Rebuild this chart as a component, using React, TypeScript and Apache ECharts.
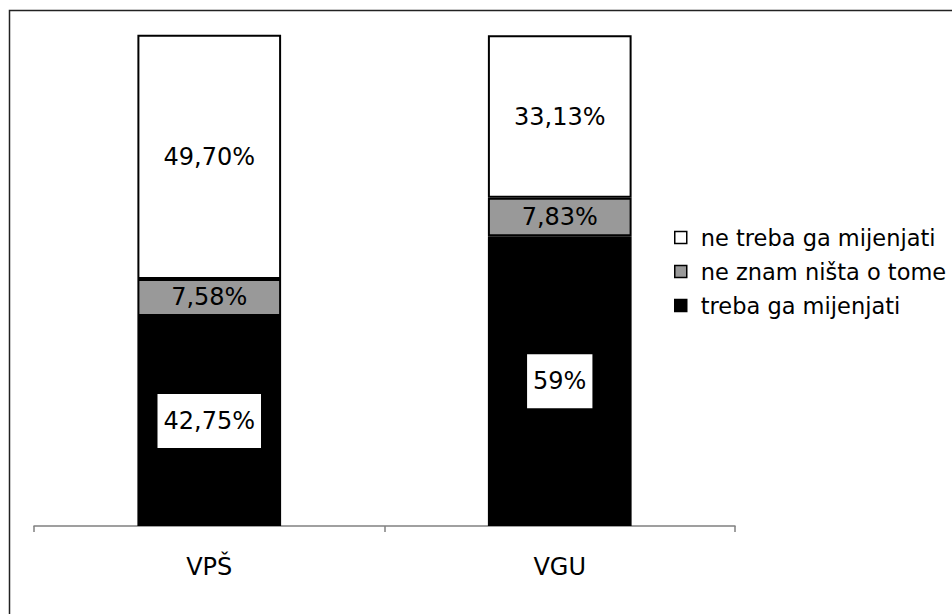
import React, { useEffect, useRef } from "react";
import * as echarts from "echarts";

const categories = ["VPŠ", "VGU"];
const seriesNames = ["treba ga mijenjati", "ne znam ništa o tome", "ne treba ga mijenjati"];
const trebaValues = [42.75, 59];
const neZnamValues = [7.58, 7.83];
const neTrebaValues = [49.7, 33.13];
const legendOrder = ["ne treba ga mijenjati", "ne znam ništa o tome", "treba ga mijenjati"];

const FONT = "DejaVu Sans";

function fmt(v: number): string {
  const s = Number.isInteger(v) ? String(v) : v.toFixed(2);
  return s.replace(".", ",") + "%";
}

export default function App() {
  const ref = useRef<HTMLDivElement>(null);
  useEffect(() => {
    if (!ref.current) return;
    const chart = echarts.init(ref.current, undefined, { renderer: "svg" });
    const border = { borderColor: "#000", borderWidth: 2 };
    const labelBase = {
      show: true,
      position: "inside" as const,
      fontFamily: FONT,
      fontSize: 24,
      color: "#000",
      formatter: (p: any) => fmt(p.value),
    };
    chart.setOption({
      animation: false,
      backgroundColor: "#fff",
      graphic: [
        {
          type: "rect",
          shape: { x: 9.5, y: 10.5, width: 1000, height: 1000 },
          style: { fill: "none", stroke: "#222", lineWidth: 1.5 },
          silent: true,
        },
      ],
      grid: { left: 34, right: 217, top: 35, bottom: 88 },
      legend: {
        orient: "vertical",
        left: 674,
        top: 226,
        padding: 0,
        data: legendOrder,
        icon: "rect",
        itemWidth: 12,
        itemHeight: 12,
        itemGap: 11,
        itemStyle: { borderColor: "#000", borderWidth: 1.5 },
        textStyle: {
          fontFamily: FONT,
          fontSize: 22.5,
          color: "#000",
          lineHeight: 22,
          padding: [0, 0, 0, 9],
        },
      },
      xAxis: {
        type: "category",
        data: categories,
        axisLine: { lineStyle: { color: "#808080", width: 1.5 } },
        axisTick: { show: true, length: 6, lineStyle: { color: "#808080", width: 1.5 } },
        axisLabel: { fontFamily: FONT, fontSize: 24, color: "#000", margin: 29 },
      },
      yAxis: { type: "value", min: 0, max: 100, show: false },
      series: [
        {
          name: seriesNames[0],
          type: "bar",
          stack: "total",
          barWidth: "41%",
          data: trebaValues,
          itemStyle: { color: "#000", ...border },
          label: { ...labelBase, backgroundColor: "#fff", padding: [15, 6] },
        },
        {
          name: seriesNames[1],
          type: "bar",
          stack: "total",
          barWidth: "41%",
          data: neZnamValues,
          itemStyle: { color: "#999999", ...border },
          label: { ...labelBase },
        },
        {
          name: seriesNames[2],
          type: "bar",
          stack: "total",
          barWidth: "41%",
          data: neTrebaValues,
          itemStyle: { color: "#fff", ...border },
          label: { ...labelBase },
        },
      ],
    });
    return () => chart.dispose();
  }, []);
  return (
    <div
      ref={ref}
      style={{ position: "fixed", left: 0, top: 0, width: 952, height: 614 }}
    />
  );
}
